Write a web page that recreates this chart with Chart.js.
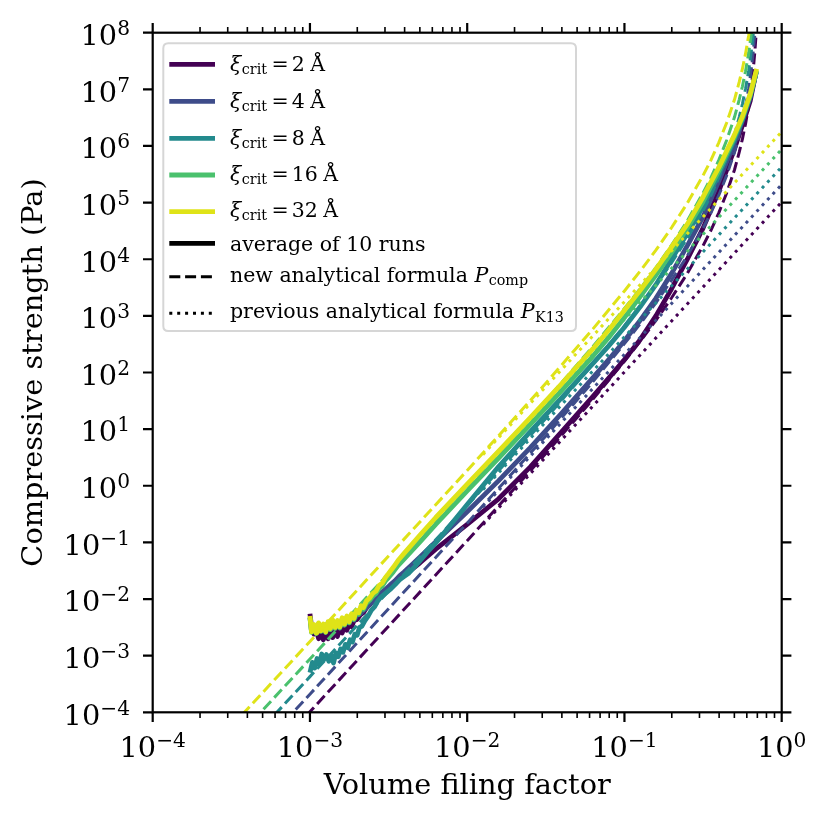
<!DOCTYPE html>
<html><head><meta charset="utf-8">
<script src="https://cdn.jsdelivr.net/npm/chart.js@4.4.1/dist/chart.umd.min.js"></script>
<style>html,body{margin:0;padding:0;background:#fff;}#wrap{width:829px;height:824px;position:relative;}</style>
</head><body><div id="wrap"><canvas id="c"></canvas></div>
<script>
const SERIF = '"DejaVu Serif", serif';
const xiValues = ['2', '4', '8', '16', '32'];
const seriesColors = ['#440154', '#3e4c8a', '#238a8d', '#4ac16d', '#dfe318'];
const xTickExponents = [-4, -3, -2, -1, 0];
const yTickExponents = [-4, -3, -2, -1, 0, 1, 2, 3, 4, 5, 6, 7, 8];

// ---- averages of 10 runs (log10 phi, log10 P) ----
const logPhi_xi2 = [-3.000,-2.990,-2.975,-2.960,-2.945,-2.930,-2.915,-2.900,-2.885,-2.870,-2.855,-2.840,-2.825,-2.810,-2.795,-2.780,-2.765,-2.750,-2.735,-2.720,-2.700,-2.680,-2.660,-2.640,-2.620,-2.600,-2.580,-2.550,-2.520,-2.490,-2.460,-2.430,-2.400,-2.350,-2.300,-2.200,-2.000,-1.800,-1.600,-1.400,-1.200,-1.100,-1.000,-0.900,-0.800,-0.700,-0.600,-0.500,-0.400,-0.300,-0.250,-0.200,-0.165];
const logP_xi2   = [-2.26,-2.48,-2.62,-2.55,-2.70,-2.58,-2.72,-2.60,-2.70,-2.57,-2.68,-2.56,-2.66,-2.52,-2.60,-2.48,-2.55,-2.44,-2.49,-2.38,-2.36,-2.28,-2.24,-2.15,-2.10,-2.03,-1.98,-1.90,-1.84,-1.78,-1.72,-1.64,-1.58,-1.47,-1.36,-1.12,-0.68,-0.23,0.33,0.95,1.58,1.90,2.23,2.58,3.00,3.48,4.00,4.55,5.20,5.95,6.36,6.80,7.28];

const logPhi_xi4 = [-3.000,-2.990,-2.975,-2.960,-2.945,-2.930,-2.915,-2.900,-2.885,-2.870,-2.855,-2.840,-2.825,-2.810,-2.795,-2.780,-2.765,-2.750,-2.735,-2.720,-2.700,-2.680,-2.660,-2.640,-2.620,-2.600,-2.580,-2.550,-2.520,-2.490,-2.460,-2.430,-2.400,-2.350,-2.300,-2.200,-2.000,-1.800,-1.600,-1.400,-1.200,-1.100,-1.000,-0.900,-0.800,-0.700,-0.600,-0.500,-0.400,-0.300,-0.250,-0.200,-0.162];
const logP_xi4   = [-2.32,-2.57,-2.47,-2.59,-2.44,-2.56,-2.46,-2.57,-2.42,-2.53,-2.40,-2.51,-2.41,-2.50,-2.37,-2.46,-2.34,-2.42,-2.31,-2.37,-2.28,-2.26,-2.20,-2.16,-2.09,-2.05,-1.98,-1.90,-1.83,-1.75,-1.68,-1.59,-1.52,-1.39,-1.26,-0.99,-0.46,0.09,0.67,1.28,1.91,2.23,2.56,2.92,3.31,3.75,4.24,4.75,5.38,6.06,6.44,6.86,7.30];

const logPhi_xi8 = [-3.000,-2.985,-2.970,-2.955,-2.940,-2.925,-2.910,-2.895,-2.880,-2.865,-2.850,-2.835,-2.820,-2.805,-2.790,-2.775,-2.760,-2.745,-2.730,-2.715,-2.700,-2.685,-2.670,-2.650,-2.630,-2.610,-2.590,-2.570,-2.550,-2.520,-2.490,-2.460,-2.430,-2.400,-2.370,-2.330,-2.290,-2.240,-2.200,-2.000,-1.800,-1.600,-1.400,-1.200,-1.100,-1.000,-0.900,-0.800,-0.700,-0.600,-0.500,-0.400,-0.300,-0.250,-0.200,-0.160];
const logP_xi8   = [-3.30,-3.12,-3.22,-3.05,-3.15,-2.97,-3.06,-2.98,-3.10,-3.00,-3.13,-2.95,-3.02,-2.88,-2.94,-2.80,-2.86,-2.72,-2.76,-2.62,-2.64,-2.50,-2.48,-2.38,-2.30,-2.20,-2.14,-2.04,-1.97,-1.90,-1.83,-1.75,-1.66,-1.60,-1.54,-1.42,-1.29,-1.13,-1.01,-0.33,0.34,0.95,1.55,2.16,2.47,2.80,3.16,3.55,4.00,4.46,4.93,5.50,6.12,6.47,6.88,7.32];

const logPhi_xi16 = [-3.000,-2.990,-2.975,-2.960,-2.945,-2.930,-2.915,-2.900,-2.885,-2.870,-2.855,-2.840,-2.825,-2.810,-2.795,-2.780,-2.765,-2.750,-2.735,-2.720,-2.705,-2.690,-2.675,-2.660,-2.640,-2.620,-2.600,-2.580,-2.560,-2.540,-2.520,-2.500,-2.470,-2.440,-2.400,-2.350,-2.300,-2.200,-2.000,-1.800,-1.600,-1.400,-1.200,-1.100,-1.000,-0.900,-0.800,-0.700,-0.600,-0.500,-0.400,-0.300,-0.250,-0.200,-0.160];
const logP_xi16   = [-2.33,-2.59,-2.47,-2.61,-2.44,-2.57,-2.46,-2.59,-2.42,-2.54,-2.39,-2.52,-2.40,-2.51,-2.35,-2.46,-2.32,-2.42,-2.28,-2.36,-2.22,-2.27,-2.15,-2.18,-2.07,-2.02,-1.95,-1.90,-1.81,-1.77,-1.68,-1.62,-1.52,-1.41,-1.29,-1.14,-0.99,-0.68,-0.09,0.49,1.08,1.68,2.29,2.62,2.97,3.34,3.72,4.12,4.55,5.02,5.56,6.16,6.50,6.90,7.33];

const logPhi_xi32 = [-3.000,-2.990,-2.975,-2.960,-2.945,-2.930,-2.915,-2.900,-2.885,-2.870,-2.855,-2.840,-2.825,-2.810,-2.795,-2.780,-2.765,-2.750,-2.735,-2.720,-2.705,-2.690,-2.675,-2.660,-2.640,-2.620,-2.600,-2.580,-2.560,-2.540,-2.520,-2.500,-2.470,-2.440,-2.400,-2.350,-2.300,-2.200,-2.000,-1.800,-1.600,-1.400,-1.200,-1.100,-1.000,-0.900,-0.800,-0.700,-0.600,-0.500,-0.400,-0.300,-0.250,-0.200,-0.159];
const logP_xi32   = [-2.30,-2.58,-2.45,-2.60,-2.42,-2.56,-2.44,-2.58,-2.40,-2.52,-2.37,-2.50,-2.38,-2.49,-2.33,-2.44,-2.30,-2.40,-2.26,-2.34,-2.20,-2.24,-2.12,-2.15,-2.03,-1.98,-1.90,-1.86,-1.76,-1.72,-1.62,-1.55,-1.44,-1.32,-1.19,-1.03,-0.87,-0.56,0.03,0.61,1.20,1.80,2.42,2.75,3.10,3.45,3.82,4.22,4.62,5.10,5.62,6.20,6.52,6.92,7.36];

// ---- new analytical formula P_comp (dashed) ----
const compLogPhi = [-3.5,-3.0,-2.5,-2.0,-1.5,-1.2,-1.0,-0.9,-0.8,-0.7,-0.6,-0.5,-0.45,-0.4,-0.35,-0.3,-0.27,-0.25,-0.23,-0.21,-0.2,-0.19,-0.18,-0.17,-0.16,-0.15];
const compLogP_xi2  = [-5.49,-3.99,-2.48,-0.97,0.57,1.53,2.20,2.55,2.92,3.32,3.75,4.24,4.51,4.82,5.17,5.58,5.89,6.12,6.39,6.71,6.91,7.12,7.38,7.69,8.09,8.65];
const compLogP_xi4  = [-5.18,-3.68,-2.17,-0.66,0.88,1.84,2.51,2.86,3.23,3.63,4.06,4.55,4.82,5.13,5.48,5.89,6.20,6.43,6.70,7.02,7.22,7.43,7.69,8.00,8.40,8.96];
const compLogP_xi8  = [-4.87,-3.37,-1.86,-0.35,1.19,2.15,2.82,3.17,3.54,3.94,4.37,4.86,5.13,5.44,5.79,6.20,6.51,6.74,7.01,7.33,7.53,7.74,8.00,8.31,8.71,9.27];
const compLogP_xi16 = [-4.56,-3.06,-1.55,-0.04,1.50,2.46,3.13,3.48,3.85,4.25,4.68,5.17,5.44,5.75,6.10,6.51,6.82,7.05,7.32,7.64,7.84,8.05,8.31,8.62,9.02,9.58];
const compLogP_xi32 = [-4.25,-2.75,-1.24,0.27,1.81,2.77,3.44,3.79,4.16,4.56,4.99,5.48,5.75,6.06,6.41,6.82,7.13,7.36,7.63,7.95,8.15,8.36,8.62,8.93,9.33,9.89];

// ---- previous analytical formula P_K13 (dotted) ----
const k13LogPhi = [-1.9, 0.0];
const k13LogP_xi2  = [-0.69, 5.01];
const k13LogP_xi4  = [-0.38, 5.32];
const k13LogP_xi8  = [-0.07, 5.63];
const k13LogP_xi16 = [0.24, 5.94];
const k13LogP_xi32 = [0.55, 6.25];

const legendTexts = ['average of 10 runs', 'new analytical formula ', 'previous analytical formula '];

const solidSets = [[logPhi_xi2, logP_xi2],[logPhi_xi4, logP_xi4],[logPhi_xi8, logP_xi8],[logPhi_xi16, logP_xi16],[logPhi_xi32, logP_xi32]];
const compSets = [compLogP_xi2, compLogP_xi4, compLogP_xi8, compLogP_xi16, compLogP_xi32];
const k13Sets = [k13LogP_xi2, k13LogP_xi4, k13LogP_xi8, k13LogP_xi16, k13LogP_xi32];

function toPoints(lx, ly) {
  const n = Math.min(lx.length, ly.length);
  const out = [];
  for (let i = 0; i < n; i++) out.push({x: Math.pow(10, lx[i]), y: Math.pow(10, ly[i])});
  return out;
}

const LW_SOLID = 4.8, LW_DASH = 3.0;
const DASH = [11, 4.8], DOT = [3, 4.9];
const datasets = [];
for (let i = 0; i < 5; i++) {
  const base = (4 - i) * 3;
  datasets.push({label: 'avg ' + xiValues[i], data: toPoints(solidSets[i][0], solidSets[i][1]),
    borderColor: seriesColors[i], borderWidth: LW_SOLID, borderJoinStyle: 'round', borderCapStyle: 'butt', order: base + 2});
  datasets.push({label: 'comp ' + xiValues[i], data: toPoints(compLogPhi, compSets[i]),
    borderColor: seriesColors[i], borderWidth: LW_DASH, borderDash: DASH, borderCapStyle: 'butt', order: base + 1});
  datasets.push({label: 'K13 ' + xiValues[i], data: toPoints(k13LogPhi, k13Sets[i]),
    borderColor: seriesColors[i], borderWidth: LW_DASH, borderDash: DOT, borderCapStyle: 'butt', order: base});
}
datasets.forEach(d => { d.showLine = true; d.pointRadius = 0; d.pointHoverRadius = 0; d.fill = false; d.tension = 0; d.clip = 0; });

function expText(e) { return e < 0 ? '\u2212' + Math.abs(e) : String(e); }
function drawPower(ctx, e, x, baseline, align) {
  ctx.font = '28.8px ' + SERIF;
  const w1 = ctx.measureText('10').width;
  const s = expText(e);
  ctx.font = '20.2px ' + SERIF;
  const w2 = ctx.measureText(s).width;
  const total = w1 + w2;
  const x0 = align === 'center' ? x - total / 2 : x - total;
  ctx.textAlign = 'left'; ctx.textBaseline = 'alphabetic'; ctx.fillStyle = '#000';
  ctx.font = '28.8px ' + SERIF; ctx.fillText('10', x0, baseline);
  ctx.font = '20.2px ' + SERIF; ctx.fillText(s, x0 + w1, baseline - 10);
}

const axesPlugin = {
  id: 'axesFrame',
  afterDatasetsDraw(chart) {
    const {ctx, chartArea: a, scales} = chart;
    const xs = scales.x, ys = scales.y;
    ctx.save();
    ctx.strokeStyle = '#000';
    ctx.lineCap = 'butt';
    ctx.lineWidth = 1.6;
    ctx.beginPath();
    for (let e = -4; e < 0; e++) {
      for (let k = 2; k <= 9; k++) {
        const px = xs.getPixelForValue(k * Math.pow(10, e));
        ctx.moveTo(px, a.bottom); ctx.lineTo(px, a.bottom + 5.6);
        ctx.moveTo(px, a.top); ctx.lineTo(px, a.top - 5.6);
      }
    }
    ctx.stroke();
    ctx.lineWidth = 2.2;
    ctx.beginPath();
    xTickExponents.forEach(e => {
      const px = xs.getPixelForValue(Math.pow(10, e));
      ctx.moveTo(px, a.bottom); ctx.lineTo(px, a.bottom + 9.7);
      ctx.moveTo(px, a.top); ctx.lineTo(px, a.top - 9.7);
    });
    yTickExponents.forEach(e => {
      const py = ys.getPixelForValue(Math.pow(10, e));
      ctx.moveTo(a.left, py); ctx.lineTo(a.left - 9.7, py);
      ctx.moveTo(a.right, py); ctx.lineTo(a.right + 9.7, py);
    });
    ctx.stroke();
    ctx.lineWidth = 2.2;
    ctx.strokeRect(a.left, a.top, a.right - a.left, a.bottom - a.top);
    xTickExponents.forEach(e => {
      drawPower(ctx, e, xs.getPixelForValue(Math.pow(10, e)), 756.7, 'center');
    });
    yTickExponents.forEach(e => {
      drawPower(ctx, e, 130, ys.getPixelForValue(Math.pow(10, e)) + 12.3, 'right');
    });
    ctx.restore();
  },
  afterDraw(chart) {
    const ctx = chart.ctx;
    ctx.save();
    const bx = 163.3, by = 43.3, bw = 412.7, bh = 287.7, r = 5;
    ctx.beginPath();
    ctx.moveTo(bx + r, by); ctx.lineTo(bx + bw - r, by); ctx.quadraticCurveTo(bx + bw, by, bx + bw, by + r);
    ctx.lineTo(bx + bw, by + bh - r); ctx.quadraticCurveTo(bx + bw, by + bh, bx + bw - r, by + bh);
    ctx.lineTo(bx + r, by + bh); ctx.quadraticCurveTo(bx, by + bh, bx, by + bh - r);
    ctx.lineTo(bx, by + r); ctx.quadraticCurveTo(bx, by, bx + r, by);
    ctx.closePath();
    ctx.fillStyle = 'rgba(255,255,255,0.8)'; ctx.fill();
    ctx.strokeStyle = '#d6d6d6'; ctx.lineWidth = 2; ctx.stroke();

    const hx0 = 169.3, hx1 = 215, tx = 230;
    const lineY = [64.3, 101.3, 138.3, 175, 211.7, 243.3, 276.7, 313.3];
    const baseY = [70.7, 108.3, 144.5, 180.7, 217.3, 251, 281.7, 318.3];
    const FS = 20.5, SS = 14.3;
    ctx.lineCap = 'butt';
    ctx.textAlign = 'left'; ctx.textBaseline = 'alphabetic'; ctx.fillStyle = '#000';
    for (let i = 0; i < 5; i++) {
      ctx.setLineDash([]);
      ctx.strokeStyle = seriesColors[i]; ctx.lineWidth = LW_SOLID;
      ctx.beginPath(); ctx.moveTo(hx0, lineY[i]); ctx.lineTo(hx1, lineY[i]); ctx.stroke();
      let x = tx;
      ctx.font = 'italic ' + FS + 'px ' + SERIF; ctx.fillText('\u03be', x, baseY[i]);
      x += ctx.measureText('\u03be').width + 0.5;
      ctx.font = SS + 'px ' + SERIF; ctx.fillText('crit', x, baseY[i] + 3);
      x += ctx.measureText('crit').width + 4.5;
      ctx.font = FS + 'px ' + SERIF;
      ctx.fillText('=', x, baseY[i]);
      x += ctx.measureText('=').width + 3.0;
      ctx.fillText(xiValues[i], x, baseY[i]);
      x += ctx.measureText(xiValues[i]).width + 5.5;
      ctx.fillText('\u00c5', x, baseY[i]);
    }
    ctx.strokeStyle = '#000'; ctx.lineWidth = LW_SOLID; ctx.setLineDash([]);
    ctx.beginPath(); ctx.moveTo(hx0, lineY[5]); ctx.lineTo(hx1, lineY[5]); ctx.stroke();
    ctx.font = FS + 'px ' + SERIF; ctx.fillText(legendTexts[0], tx, baseY[5]);
    ctx.lineWidth = LW_DASH; ctx.setLineDash(DASH);
    ctx.beginPath(); ctx.moveTo(hx0, lineY[6]); ctx.lineTo(hx1, lineY[6]); ctx.stroke();
    ctx.setLineDash(DOT);
    ctx.beginPath(); ctx.moveTo(hx0, lineY[7]); ctx.lineTo(hx1, lineY[7]); ctx.stroke();
    ctx.setLineDash([]);
    const subs = ['comp', 'K13'];
    for (let j = 0; j < 2; j++) {
      const yb = baseY[6 + j];
      let x = tx;
      ctx.font = FS + 'px ' + SERIF; ctx.fillText(legendTexts[1 + j], x, yb);
      x += ctx.measureText(legendTexts[1 + j]).width;
      ctx.font = 'italic ' + FS + 'px ' + SERIF; ctx.fillText('P', x, yb);
      x += ctx.measureText('P').width + 0.5;
      ctx.font = SS + 'px ' + SERIF; ctx.fillText(subs[j], x, yb + 3.3);
    }
    ctx.restore();
  }
};

new Chart(document.getElementById('c'), {
  type: 'scatter',
  data: {datasets},
  options: {
    responsive: true, maintainAspectRatio: false, animation: false,
    layout: {padding: {left: 0, top: 32.7, right: 47.3, bottom: 0}},
    plugins: {legend: {display: false}, tooltip: {enabled: false}},
    events: [],
    scales: {
      x: {type: 'logarithmic', position: 'bottom', min: 1e-4, max: 1,
        ticks: {display: false}, grid: {display: false}, border: {display: false},
        title: {display: true, text: 'Volume filing factor', color: '#000', font: {family: SERIF, size: 28.8}, padding: {top: 0, bottom: 19.7}},
        afterFit(s) { s.height = 111.7; }},
      y: {type: 'logarithmic', position: 'left', min: 1e-4, max: 1e8,
        ticks: {display: false}, grid: {display: false}, border: {display: false},
        title: {display: true, text: 'Compressive strength (Pa)', color: '#000', font: {family: SERIF, size: 28.8}, padding: {top: 17.4, bottom: 0}},
        afterFit(s) { s.width = 152.7; }}
    }
  },
  plugins: [axesPlugin]
});
</script>
</body></html>
